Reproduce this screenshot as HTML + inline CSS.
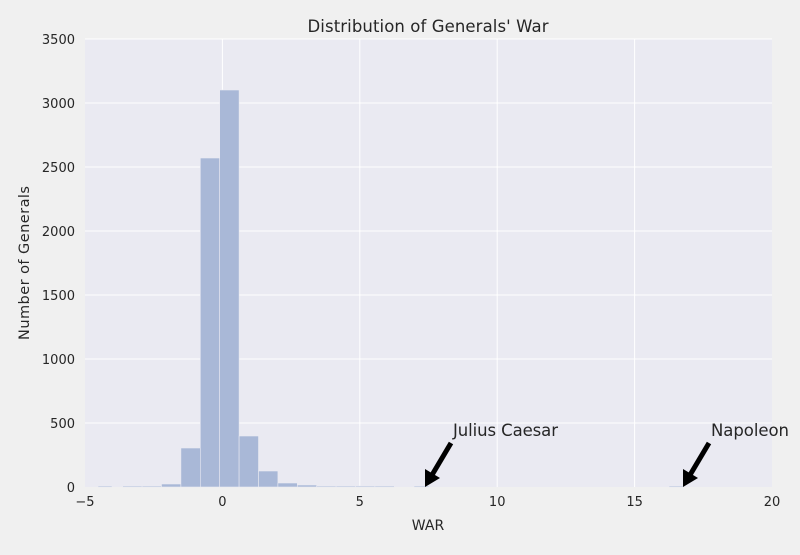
<!DOCTYPE html><html><head><style>body{margin:0;background:#f0f0f0}</style></head><body>
<svg width="800" height="550" xmlns="http://www.w3.org/2000/svg" font-family="DejaVu Sans, sans-serif">
<rect width="800" height="550" fill="#f0f0f0"/>
<rect x="85" y="39" width="687" height="448" fill="#eaeaf2"/>
<g stroke="#fff" stroke-width="1">
<line x1="222.4" y1="39" x2="222.4" y2="487"/><line x1="359.8" y1="39" x2="359.8" y2="487"/><line x1="497.2" y1="39" x2="497.2" y2="487"/><line x1="634.6" y1="39" x2="634.6" y2="487"/>
<line x1="85" y1="423" x2="772" y2="423"/><line x1="85" y1="359" x2="772" y2="359"/><line x1="85" y1="295" x2="772" y2="295"/><line x1="85" y1="231" x2="772" y2="231"/><line x1="85" y1="167" x2="772" y2="167"/><line x1="85" y1="103" x2="772" y2="103"/><line x1="85" y1="39" x2="772" y2="39"/>
</g>
<g fill="#a9b8d7" stroke="#eaeaf2" stroke-width="0.6">
<rect x="98" y="486" width="14" height="1"/>
<rect x="122.7" y="486" width="19.4" height="1"/>
<rect x="142.1" y="486" width="19.4" height="1"/>
<rect x="161.5" y="484" width="19.4" height="3"/>
<rect x="180.9" y="448" width="19.4" height="39"/>
<rect x="200.3" y="158" width="19.4" height="329"/>
<rect x="219.7" y="90" width="19.4" height="397"/>
<rect x="239.1" y="436" width="19.4" height="51"/>
<rect x="258.5" y="471" width="19.4" height="16"/>
<rect x="277.9" y="483" width="19.4" height="4"/>
<rect x="297.3" y="485" width="19.4" height="2"/>
<rect x="316.7" y="486" width="19.4" height="1"/>
<rect x="336.1" y="486" width="19.4" height="1"/>
<rect x="355.5" y="486" width="19.4" height="1"/>
<rect x="374.9" y="486" width="19.4" height="1"/>
<rect x="414" y="486" width="15" height="1"/>
<rect x="669" y="486" width="15" height="1"/>
</g>
<g stroke="#000" stroke-width="5"><line x1="451" y1="443" x2="432" y2="475"/><line x1="709" y1="443" x2="690" y2="475"/></g>
<polygon points="425,487 425,469 440,478" fill="#000"/>
<polygon points="683,487 683,469 698,478" fill="#000"/>
<g fill="#262626" font-size="16.5"><text x="453" y="436" textLength="105">Julius Caesar</text><text x="711" y="436" textLength="78">Napoleon</text></g>
<g fill="#262626" font-size="13" text-anchor="end">
<text x="75" y="492">0</text><text x="75" y="428">500</text><text x="75" y="364">1000</text><text x="75" y="300">1500</text><text x="75" y="236">2000</text><text x="75" y="172">2500</text><text x="75" y="108">3000</text><text x="75" y="44">3500</text></g>
<g fill="#262626" font-size="13" text-anchor="middle">
<text x="85" y="506">−5</text><text x="222.4" y="506">0</text><text x="359.8" y="506">5</text><text x="497.2" y="506">10</text><text x="634.6" y="506">15</text><text x="772" y="506">20</text>
<text x="428" y="530" font-size="14">WAR</text>
<text x="428" y="32" font-size="16.5" textLength="241">Distribution of Generals' War</text>
<text transform="translate(29,263) rotate(-90)" font-size="14.5" textLength="154">Number of Generals</text></g>
</svg></body></html>
